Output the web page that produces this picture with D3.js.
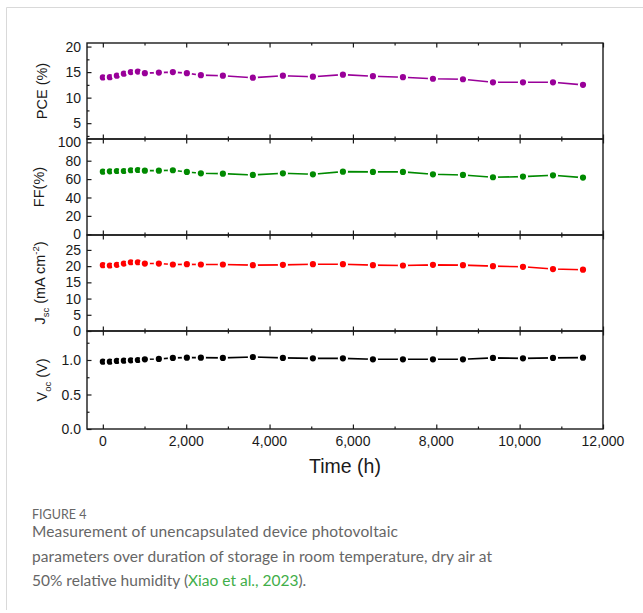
<!DOCTYPE html>
<html>
<head>
<meta charset="utf-8">
<script src="https://cdn.jsdelivr.net/npm/d3@7"></script>
<style>
  body { margin: 0; background: #fff; }
  text { font-family: "Liberation Sans", Arial, sans-serif; }
  .cap { font-family: Lato, "Open Sans", sans-serif; }
</style>
</head>
<body>
<svg id="plot"></svg>
<script>
// Storage time (h)
const hours = [0, 168, 336, 504, 672, 840, 1008, 1344, 1680, 2016, 2352, 2880, 3600, 4320,
    5040, 5760, 6480, 7200, 7920, 8640, 9360, 10080, 10800, 11520];

// Device parameters
const pce = [13.95, 14.0, 14.3, 14.7, 15.0, 15.1, 14.8, 14.9, 15.0, 14.8, 14.4, 14.3, 13.9, 14.3,
    14.1, 14.5, 14.2, 14.0, 13.7, 13.6, 13.0, 13.0, 13.0, 12.5];
const ff = [68.1, 68.5, 68.8, 68.8, 69.6, 69.9, 69.2, 69.2, 69.6, 67.8, 66.3, 65.9, 64.5, 66.3,
    65.2, 68.1, 67.8, 67.8, 65.2, 64.5, 62.0, 62.7, 64.1, 61.6];
const jsc = [20.3, 20.2, 20.4, 20.8, 21.2, 21.2, 20.8, 20.8, 20.5, 20.6, 20.5, 20.5, 20.3, 20.4,
    20.6, 20.6, 20.3, 20.2, 20.4, 20.3, 20.0, 19.8, 19.1, 18.9];
const voc = [0.976, 0.976, 0.986, 0.99, 0.995, 1.0, 1.01, 1.015, 1.03, 1.034, 1.034, 1.03, 1.043, 1.03,
    1.024, 1.024, 1.01, 1.01, 1.01, 1.01, 1.03, 1.024, 1.03, 1.034];

// Tick values
const xMajor = [0, 2000, 4000, 6000, 8000, 10000, 12000];
const xMinor = [1000, 3000, 5000, 7000, 9000, 11000];
const pceTicks = [5, 10, 15, 20];
const pceMinor = [2.5, 7.5, 12.5, 17.5];
const ffTicks = [0, 20, 40, 60, 80, 100];
const jscTicks = [0, 5, 10, 15, 20, 25];
const vocTicks = [0.0, 0.5, 1.0];
const vocMinor = [0.25, 0.75, 1.25];

let width = 643;
let height = 613;

let svg = d3.select('#plot')
    .attr('width', width)
    .attr('height', height);

svg.append('rect').attr('width', width).attr('height', height).attr('fill', '#fff');

// figure frame (light gray lines at top and left)
svg.append('line').attr('x1', 6.5).attr('x2', 643).attr('y1', 7.5).attr('y2', 7.5)
    .attr('stroke', '#d9d9d9').attr('stroke-width', 1);
svg.append('line').attr('x1', 6.5).attr('x2', 6.5).attr('y1', 7.5).attr('y2', 610)
    .attr('stroke', '#d9d9d9').attr('stroke-width', 1);

let plotLeft = 87, plotRight = 603;

let x = d3.scaleLinear()
    .domain([-380, 12000])
    .range([plotLeft, plotRight]);

let panels = [
    { values: pce, color: '#990099', top: 43, bottom: 139, domain: [1.9, 20.7], ticks: pceTicks, minor: pceMinor, fmt: d3.format('d'), title: 'pce', tx: 47 },
    { values: ff, color: '#008a00', top: 139, bottom: 235, domain: [-0.8, 103.6], ticks: ffTicks, minor: [], fmt: d3.format('d'), title: 'ff', tx: 44 },
    { values: jsc, color: '#ff0000', top: 235, bottom: 331, domain: [0, 29.6], ticks: jscTicks, minor: [], fmt: d3.format('d'), title: 'jsc', tx: 45 },
    { values: voc, color: '#000000', top: 331, bottom: 429, domain: [0, 1.42], ticks: vocTicks, minor: vocMinor, fmt: d3.format('.1f'), title: 'voc', tx: 47 }
];

panels.forEach(function(p) {
    let y = d3.scaleLinear().domain(p.domain).range([p.bottom, p.top]);
    let g = svg.append('g');

    // frame
    g.append('rect')
        .attr('x', plotLeft).attr('y', p.top)
        .attr('width', plotRight - plotLeft).attr('height', p.bottom - p.top)
        .attr('fill', 'none').attr('stroke', '#1a1a1a').attr('stroke-width', 1.4);

    // x ticks (inward, top and bottom)
    let bottomAxis = g.append('g')
        .attr('transform', `translate(0, ${p.bottom})`)
        .call(d3.axisTop(x).tickValues(xMajor).tickSize(4.5).tickFormat(''));
    bottomAxis.append('g')
        .call(d3.axisTop(x).tickValues(xMinor).tickSize(2.5).tickFormat(''));
    let topAxis = g.append('g')
        .attr('transform', `translate(0, ${p.top})`)
        .call(d3.axisBottom(x).tickValues(xMajor).tickSize(4.5).tickFormat(''));
    topAxis.append('g')
        .call(d3.axisBottom(x).tickValues(xMinor).tickSize(2.5).tickFormat(''));

    // y ticks (inward on the left)
    let yAxis = g.append('g')
        .attr('transform', `translate(${plotLeft}, 0)`)
        .call(d3.axisRight(y).tickValues(p.ticks).tickSize(4.5).tickFormat(''));
    yAxis.append('g')
        .call(d3.axisRight(y).tickValues(p.minor).tickSize(2.5).tickFormat(''));

    g.selectAll('.domain').remove();
    g.selectAll('.tick line').attr('stroke', '#1a1a1a').attr('stroke-width', 1.2);

    // y tick labels
    g.selectAll('.ylab')
        .data(p.ticks)
        .enter()
        .append('text')
        .attr('x', plotLeft - 6)
        .attr('y', d => y(d))
        .attr('dy', '0.36em')
        .attr('text-anchor', 'end')
        .attr('font-size', 14)
        .attr('fill', '#1a1a1a')
        .text(d => p.fmt(d));

    // line + markers
    let pts = hours.map((h, i) => [h, p.values[i]]);
    g.append('path')
        .datum(pts)
        .attr('d', d3.line().x(d => x(d[0])).y(d => y(d[1])))
        .attr('fill', 'none')
        .attr('stroke', p.color)
        .attr('stroke-width', 1.6);
    g.selectAll('.dot')
        .data(pts)
        .enter()
        .append('circle')
        .attr('cx', d => x(d[0]))
        .attr('cy', d => y(d[1]))
        .attr('r', 4.1)
        .attr('fill', p.color)
        .attr('stroke', '#fff')
        .attr('stroke-width', 2);

    // y title
    let cy = (p.top + p.bottom) / 2;
    let t = svg.append('text')
        .attr('transform', `translate(${p.tx}, ${cy}) rotate(-90)`)
        .attr('text-anchor', 'middle')
        .attr('font-size', 14.5)
        .attr('fill', '#1a1a1a');
    if (p.title === 'pce') {
        t.text('PCE (%)');
    } else if (p.title === 'ff') {
        t.text('FF(%)');
    } else if (p.title === 'jsc') {
        t.append('tspan').text('J');
        t.append('tspan').attr('font-size', 9.5).attr('dy', 4).text('sc');
        t.append('tspan').attr('dy', -4).text(' (mA cm');
        t.append('tspan').attr('font-size', 9.5).attr('dy', -6).text('-2');
        t.append('tspan').attr('dy', 6).text(')');
    } else {
        t.append('tspan').text('V');
        t.append('tspan').attr('font-size', 9.5).attr('dy', 4).text('oc');
        t.append('tspan').attr('dy', -4).text(' (V)');
    }
});

// x tick labels under the bottom panel
svg.selectAll('.xlab')
    .data(xMajor)
    .enter()
    .append('text')
    .attr('x', d => x(d))
    .attr('y', 446)
    .attr('text-anchor', 'middle')
    .attr('font-size', 14)
    .attr('fill', '#1a1a1a')
    .text(d => d3.format(',')(d));

svg.append('text')
    .attr('x', (plotLeft + plotRight) / 2)
    .attr('y', 473)
    .attr('text-anchor', 'middle')
    .attr('font-size', 19.5)
    .attr('fill', '#1a1a1a')
    .text('Time (h)');

// caption
svg.append('text')
    .attr('class', 'cap')
    .attr('x', 32).attr('y', 519)
    .attr('font-size', 12.5)
    .attr('fill', '#666')
    .text('FIGURE 4');

let capLines = [
    { text: 'Measurement of unencapsulated device photovoltaic', len: 366 },
    { text: 'parameters over duration of storage in room temperature, dry air at', len: 460 }
];
capLines.forEach(function(l, i) {
    svg.append('text')
        .attr('class', 'cap')
        .attr('x', 32).attr('y', 537 + i * 25)
        .attr('font-size', 15.5)
        .attr('fill', '#666')
        .attr('textLength', l.len)
        .attr('lengthAdjust', 'spacing')
        .text(l.text);
});
let last = svg.append('text')
    .attr('class', 'cap')
    .attr('x', 32).attr('y', 586)
    .attr('font-size', 15.5)
    .attr('fill', '#666');
last.append('tspan').text('50% relative humidity (');
last.append('tspan').attr('fill', '#3fae49').text('Xiao et al., 2023');
last.append('tspan').text(').');
</script>
</body>
</html>
